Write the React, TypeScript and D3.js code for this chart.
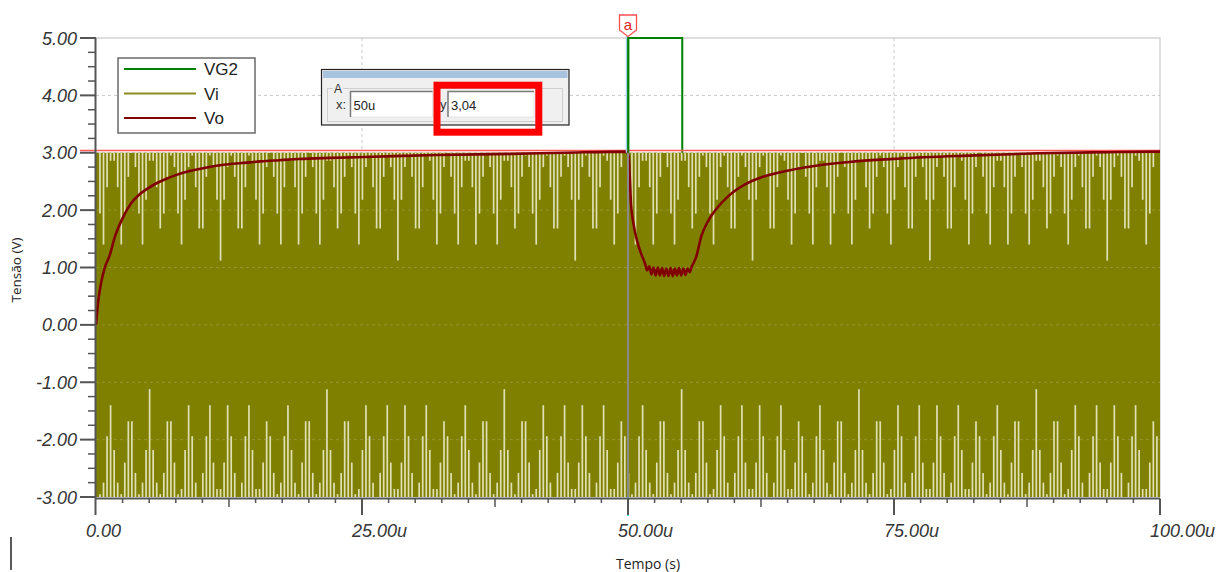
import React, { useEffect, useRef } from "react";
import * as d3 from "d3";

// time in microseconds, voltage in volts
const voTime = [0, 0.2, 0.5, 0.8, 1.3, 1.8, 2.5, 3.3, 4.0, 4.8, 5.6, 6.4, 7.5, 8.8, 10.3, 12, 13.7, 15.5, 17.2, 19, 22, 26, 32, 39, 44, 49.9,
  50.05, 50.3, 50.5, 50.7, 51.1, 51.6, 51.8, 52.0, 52.2, 52.4, 52.6, 52.8, 53.0, 53.2, 53.4, 53.6, 53.8, 54.0, 54.2, 54.4, 54.6,
  54.8, 55.0, 55.2, 55.4, 55.6, 55.8, 56.0,
  56.4, 56.9, 57.5, 58.3, 59.4, 61.0, 62.5, 64.3, 67.5, 70.8, 75.6, 82, 88.6, 95, 100];
const voVolts = [0, 0.4, 0.75, 0.98, 1.22, 1.55, 1.86, 2.12, 2.26, 2.37, 2.46, 2.53, 2.61, 2.68, 2.74, 2.79, 2.82, 2.85, 2.87, 2.89, 2.91, 2.93, 2.96, 2.98, 3.0, 3.02,
  2.95, 2.06, 1.78, 1.58, 1.31, 1.07, 0.95, 1.02, 0.88, 1.0, 0.86, 1.0, 0.86, 0.99, 0.85, 0.98, 0.85, 0.99, 0.85, 0.98, 0.86,
  0.99, 0.86, 0.98, 0.87, 0.98, 0.92, 1.02,
  1.18, 1.55, 1.8, 2.02, 2.24, 2.45, 2.57, 2.66, 2.77, 2.84, 2.9, 2.95, 2.99, 3.01, 3.02];

const vg2Time = [0, 50, 50, 55.1, 55.1, 100];
const vg2Volts = [0, 0, 5, 5, 0, 0];

// Vi: +-3 V at 3 MHz, sampled peaks drawn as stripes (code -> level)
const viStart = 0.373;
const viPeriod = 1 / 3;
const viLevels = [3.0, 2.95, 2.86, 2.75, 2.58, 2.4, 2.18, 1.94, 1.68, 1.4, 1.12];
const viPeakCodes = [
  7, 9, 5, 2, 2, 5, 9, 7, 4, 0, 3, 7, 9, 6, 2, 2, 5, 8, 7, 4, 1, 3, 7, 9, 6, 3, 1, 5, 8, 8, 4, 1, 3, 6, 10, 6, 3, 1, 4, 8, 8, 5, 1, 2, 6, 9, 7, 3, 0, 4,
  7, 9, 5, 2, 2, 5, 9, 7, 4, 0, 3, 7, 9, 6, 2, 2, 5, 8, 7, 4, 1, 3, 7, 9, 6, 3, 1, 5, 8, 8, 4, 1, 3, 6, 10, 6, 3, 1, 4, 8, 8, 5, 1, 2, 6, 9, 7, 3, 0, 4,
  7, 9, 5, 2, 2, 5, 9, 7, 4, 0, 3, 7, 9, 6, 2, 2, 5, 8, 7, 4, 1, 3, 7, 9, 6, 3, 1, 5, 8, 8, 4, 1, 3, 6, 10, 6, 3, 1, 4, 8, 8, 5, 1, 2, 6, 9, 7, 3, 0, 4,
  7, 9, 5, 2, 2, 5, 9, 7, 4, 0, 3, 7, 9, 6, 2, 2, 5, 8, 7, 4, 1, 3, 7, 9, 6, 3, 1, 5, 8, 8, 4, 1, 3, 6, 10, 6, 3, 1, 4, 8, 8, 5, 1, 2, 6, 9, 7, 3, 0, 4,
  7, 9, 5, 2, 2, 5, 9, 7, 4, 0, 3, 7, 9, 6, 2, 2, 5, 8, 7, 4, 1, 3, 7, 9, 6, 3, 1, 5, 8, 8, 4, 1, 3, 6, 10, 6, 3, 1, 4, 8, 8, 5, 1, 2, 6, 9, 7, 3, 0, 4,
  7, 9, 5, 2, 2, 5, 9, 7, 4, 0, 3, 7, 9, 6, 2, 2, 5, 8, 7, 4, 1, 3, 7, 9, 6, 3, 1, 5, 8, 8, 4, 1, 3, 6, 10, 6, 3, 1, 4, 8, 8, 5, 1, 2, 6, 9, 7, 3, 0,
];
const viTroughCodes = [
  1, 3, 7, 9, 6, 3, 1, 5, 8, 8, 4, 1, 3, 6, 10, 6, 3, 1, 4, 8, 8, 5, 1, 2, 6, 9, 7, 3, 0, 4, 7, 9, 5, 2, 2, 5, 9, 7, 4, 0, 3, 7, 9, 6, 2, 2, 5, 8, 7, 4,
  1, 3, 7, 9, 6, 3, 1, 5, 8, 8, 4, 1, 3, 6, 10, 6, 3, 1, 4, 8, 8, 5, 1, 2, 6, 9, 7, 3, 0, 4, 7, 9, 5, 2, 2, 5, 9, 7, 4, 0, 3, 7, 9, 6, 2, 2, 5, 8, 7, 4,
  1, 3, 7, 9, 6, 3, 1, 5, 8, 8, 4, 1, 3, 6, 10, 6, 3, 1, 4, 8, 8, 5, 1, 2, 6, 9, 7, 3, 0, 4, 7, 9, 5, 2, 2, 5, 9, 7, 4, 0, 3, 7, 9, 6, 2, 2, 5, 8, 7, 4,
  1, 3, 7, 9, 6, 3, 1, 5, 8, 8, 4, 1, 3, 6, 10, 6, 3, 1, 4, 8, 8, 5, 1, 2, 6, 9, 7, 3, 0, 4, 7, 9, 5, 2, 2, 5, 9, 7, 4, 0, 3, 7, 9, 6, 2, 2, 5, 8, 7, 4,
  1, 3, 7, 9, 6, 3, 1, 5, 8, 8, 4, 1, 3, 6, 10, 6, 3, 1, 4, 8, 8, 5, 1, 2, 6, 9, 7, 3, 0, 4, 7, 9, 5, 2, 2, 5, 9, 7, 4, 0, 3, 7, 9, 6, 2, 2, 5, 8, 7, 4,
  1, 3, 7, 9, 6, 3, 1, 5, 8, 8, 4, 1, 3, 6, 10, 6, 3, 1, 4, 8, 8, 5, 1, 2, 6, 9, 7, 3, 0, 4, 7, 9, 5, 2, 2, 5, 9, 7, 4, 0, 3, 7, 9, 6, 2, 2, 5, 8, 7,
];

const yTickValues = [5, 4, 3, 2, 1, 0, -1, -2, -3];
const yTickLabels = ["5.00", "4.00", "3.00", "2.00", "1.00", "0.00", "-1.00", "-2.00", "-3.00"];
const xTickValues = [0, 25, 50, 75, 100];
const xTickLabels = ["0.00", "25.00u", "50.00u", "75.00u", "100.00u"];

const legendNames = ["VG2", "Vi", "Vo"];
const legendColors = ["#008000", "#8c8c20", "#800000"];

const cursorTime = 50;
const cursorVolts = 3.04;
const cursorXText = "50u";
const cursorYText = "3,04";

const W = 1216, H = 572;
const margin = { top: 38, right: 56, bottom: 75, left: 96 };

export default function App() {
  const ref = useRef<SVGSVGElement>(null);

  useEffect(() => {
    const svg = d3.select(ref.current);
    svg.selectAll("*").remove();

    const x = d3.scaleLinear().domain([0, 100]).range([margin.left, W - margin.right]);
    const y = d3.scaleLinear().domain([-3, 5]).range([H - margin.bottom, margin.top]);
    const x0 = x(0), x1 = x(100), yTop = y(5), yBot = y(-3);

    // frame (top + right)
    svg.append("path")
      .attr("d", `M${x0},${yTop}H${x1}V${yBot}`)
      .attr("fill", "none").attr("stroke", "#d4d4d4").attr("stroke-width", 1.5);

    // grid
    const grid = svg.append("g").attr("stroke", "#c8c8c8").attr("stroke-dasharray", "3,3");
    yTickValues.filter(v => v > -3 && v < 5).forEach(v => {
      grid.append("line").attr("x1", x0).attr("x2", x1).attr("y1", y(v)).attr("y2", y(v));
    });
    [25, 75].forEach(t => {
      grid.append("line").attr("x1", x(t)).attr("x2", x(t)).attr("y1", yTop).attr("y2", yBot);
    });

    // VG2 (mostly hidden under Vi)
    const vg2Line = d3.line<number>().x((d, i) => x(vg2Time[i])).y(d => y(d));
    svg.append("path").attr("d", vg2Line(vg2Volts))
      .attr("fill", "none").attr("stroke", "#008000").attr("stroke-width", 2);

    // Vi envelope
    svg.append("rect")
      .attr("x", x0).attr("y", y(3)).attr("width", x1 - x0).attr("height", y(-3) - y(3))
      .attr("fill", "#808000");

    const stripes = svg.append("g").attr("stroke", "#e0e0b4").attr("stroke-width", 1.7);
    viPeakCodes.forEach((c, i) => {
      if (c === 0) return;
      const t = viStart + i * viPeriod;
      stripes.append("line").attr("x1", x(t)).attr("x2", x(t)).attr("y1", y(3)).attr("y2", y(viLevels[c]));
    });
    viTroughCodes.forEach((c, i) => {
      if (c === 0) return;
      const t = viStart + i * viPeriod;
      stripes.append("line").attr("x1", x(t)).attr("x2", x(t)).attr("y1", y(-3)).attr("y2", y(-viLevels[c]));
    });

    // faint grid over the band
    const grid2 = svg.append("g").attr("stroke", "#b8b8a0").attr("stroke-opacity", 0.35).attr("stroke-dasharray", "3,3");
    yTickValues.filter(v => v > -3 && v < 3).forEach(v => {
      grid2.append("line").attr("x1", x0).attr("x2", x1).attr("y1", y(v)).attr("y2", y(v));
    });

    // horizontal cursor
    svg.append("line")
      .attr("x1", 80).attr("x2", x1).attr("y1", y(cursorVolts)).attr("y2", y(cursorVolts))
      .attr("stroke", "#ff5a5a").attr("stroke-width", 1.5);

    // Vo
    const voLine = d3.line<number>().x((d, i) => x(voTime[i])).y(d => y(d)).curve(d3.curveMonotoneX);
    svg.append("path").attr("d", voLine(voVolts))
      .attr("fill", "none").attr("stroke", "#800000").attr("stroke-width", 2.6);

    // vertical cursor
    const cx = x(cursorTime);
    svg.append("line").attr("x1", cx - 1.5).attr("x2", cx - 1.5).attr("y1", 36).attr("y2", y(3))
      .attr("stroke", "#9fd0ee").attr("stroke-width", 1.5);
    svg.append("line").attr("x1", cx + 0.5).attr("x2", cx + 0.5).attr("y1", yTop).attr("y2", y(3))
      .attr("stroke", "#008000").attr("stroke-width", 1.8);
    svg.append("line").attr("x1", cx).attr("x2", cx).attr("y1", y(3)).attr("y2", yBot)
      .attr("stroke", "#8a8a8a").attr("stroke-width", 2);
    svg.append("line").attr("x1", cx).attr("x2", cx).attr("y1", yBot).attr("y2", yBot + 19)
      .attr("stroke", "#33ddff").attr("stroke-width", 1.5);

    // cursor tag "a"
    svg.append("path")
      .attr("d", `M${cx - 8.5},15H${cx + 8.5}V30L${cx},36.5L${cx - 8.5},30Z`)
      .attr("fill", "white").attr("stroke", "#ff5050").attr("stroke-width", 1.3);
    svg.append("text").attr("x", cx).attr("y", 30).attr("text-anchor", "middle")
      .attr("font-family", "Liberation Sans, Arial, sans-serif").attr("font-size", 15)
      .attr("fill", "#e02020").text("a");

    // axes
    const axis = svg.append("g").attr("stroke", "#555").attr("stroke-width", 2);
    axis.append("line").attr("x1", x0 - 0.5).attr("x2", x0 - 0.5).attr("y1", yTop).attr("y2", yBot + 18);
    axis.append("line").attr("x1", x0).attr("x2", x1).attr("y1", yBot + 1.5).attr("y2", yBot + 1.5);
    d3.range(-3, 5.01, 0.25).forEach(v => {
      const major = Math.abs(v - Math.round(v)) < 1e-6;
      axis.append("line").attr("x1", x0 - (major ? 16 : 8)).attr("x2", x0).attr("y1", y(v)).attr("y2", y(v))
        .attr("stroke-width", major ? 2 : 1.5);
    });
    d3.range(2.5, 100.01, 2.5).forEach(t => {
      const major = Math.abs(t % 25) < 1e-6;
      const mid = Math.abs(t % 12.5) < 1e-6;
      axis.append("line").attr("x1", x(t)).attr("x2", x(t)).attr("y1", yBot + 1.5)
        .attr("y2", yBot + (major ? 18 : mid ? 10 : 6)).attr("stroke-width", major ? 2 : 1.5);
    });

    const tickFont = "Liberation Sans, Arial, sans-serif";
    yTickValues.forEach((v, i) => {
      svg.append("text").attr("x", 77).attr("y", y(v) + 6.5).attr("text-anchor", "end")
        .attr("font-family", tickFont).attr("font-style", "italic").attr("font-size", 18)
        .attr("fill", "#363636").text(yTickLabels[i]);
    });
    xTickValues.forEach((t, i) => {
      svg.append("text").attr("x", x(t) - 10).attr("y", 537).attr("text-anchor", "start")
        .attr("font-family", tickFont).attr("font-style", "italic").attr("font-size", 18)
        .attr("fill", "#363636").text(xTickLabels[i]);
    });

    svg.append("text").attr("transform", "translate(21,270) rotate(-90)").attr("text-anchor", "middle")
      .attr("font-family", "Open Sans, sans-serif").attr("font-size", 13.5).attr("fill", "#222").text("Tensão (V)");
    svg.append("text").attr("x", 648).attr("y", 569).attr("text-anchor", "middle")
      .attr("font-family", "Open Sans, sans-serif").attr("font-size", 14).attr("fill", "#222").text("Tempo (s)");

    svg.append("line").attr("x1", 11).attr("x2", 11).attr("y1", 537).attr("y2", 570)
      .attr("stroke", "#000").attr("stroke-width", 1.3);

    // legend
    const lg = svg.append("g");
    lg.append("rect").attr("x", 118).attr("y", 58).attr("width", 137).attr("height", 75)
      .attr("fill", "white").attr("stroke", "#6a6a6a").attr("stroke-width", 1.5);
    legendNames.forEach((n, i) => {
      const ly = 69 + i * 24.5;
      lg.append("line").attr("x1", 124).attr("x2", 196).attr("y1", ly).attr("y2", ly)
        .attr("stroke", legendColors[i]).attr("stroke-width", 2);
      lg.append("text").attr("x", 204).attr("y", ly + 6).attr("font-family", tickFont)
        .attr("font-size", 17).attr("fill", "#222").text(n);
    });

    // cursor readout box
    const cb = svg.append("g").attr("font-family", "Liberation Sans, Arial, sans-serif").attr("font-size", 13);
    cb.append("rect").attr("x", 321.5).attr("y", 69.5).attr("width", 247.5).attr("height", 55.5)
      .attr("fill", "#f0f0f0").attr("stroke", "#222").attr("stroke-width", 1.2);
    cb.append("rect").attr("x", 323).attr("y", 71).attr("width", 244.5).attr("height", 7).attr("fill", "#a8c3dd");
    cb.append("rect").attr("x", 327.5).attr("y", 88.5).attr("width", 235).attr("height", 33)
      .attr("fill", "none").attr("stroke", "#cfcfcf");
    cb.append("rect").attr("x", 333).attr("y", 83).attr("width", 10).attr("height", 10).attr("fill", "#f0f0f0");
    cb.append("text").attr("x", 334).attr("y", 93).attr("font-size", 12).attr("fill", "#333").text("A");
    [[336, 350.5, 82, cursorXText, "x:"], [440, 448, 86, cursorYText, "y:"]].forEach(([lx, bx, bw, txt, lab]) => {
      cb.append("text").attr("x", lx).attr("y", 109).attr("fill", "#333").text(lab as string);
      cb.append("rect").attr("x", bx).attr("y", 91.5).attr("width", bw).attr("height", 25.5)
        .attr("fill", "white").attr("stroke", "#e4e4e4");
      cb.append("path").attr("d", `M${bx},${91.5 + 25.5}V91.5H${(bx as number) + (bw as number)}`)
        .attr("fill", "none").attr("stroke", "#7a7a7a").attr("stroke-width", 1.5);
      cb.append("text").attr("x", (bx as number) + 3).attr("y", 109.5).attr("fill", "#222").text(txt as string);
    });
    cb.append("rect").attr("x", 437).attr("y", 85.2).attr("width", 101.8).attr("height", 47)
      .attr("fill", "none").attr("stroke", "#ff0000").attr("stroke-width", 7);
  }, []);

  return (
    <svg ref={ref} width={W} height={H}
      style={{ position: "absolute", left: 0, top: 0, background: "white" }} />
  );
}
